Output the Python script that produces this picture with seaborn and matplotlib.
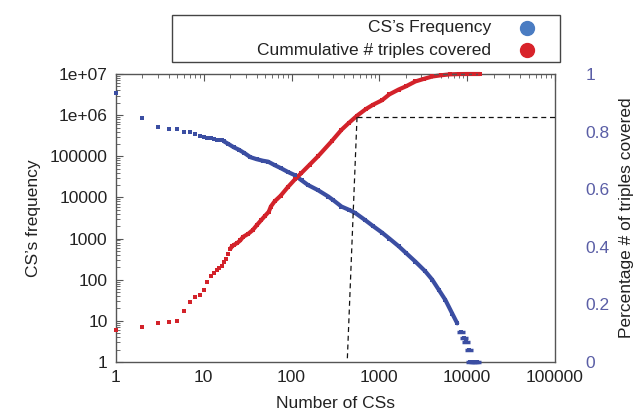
import matplotlib
matplotlib.use("Agg")
import matplotlib.pyplot as plt
from matplotlib.lines import Line2D
from matplotlib.patches import Rectangle
from matplotlib.ticker import FixedLocator, LogLocator, NullFormatter
import seaborn as sns
import pandas as pd
import numpy as np

# ---- data ----
freq_x = [1, 2, 3, 4, 5, 6, 7, 8, 9, 10, 11, 12, 13, 14, 15, 16, 17, 19, 22, 25,
          29, 34, 40, 47, 54, 65, 76, 90, 108, 130, 154, 200, 262, 300, 370, 450,
          530, 690, 850, 1070, 1300, 1660, 2000, 2570, 3330, 4000, 4770, 5650,
          6760, 7700, 8450, 9200, 9600, 10500, 10800, 11500, 12300, 13000]
freq_y = [3.5e6, 8.7e5, 5.2e5, 4.6e5, 4.5e5, 4.0e5, 3.8e5, 3.5e5, 3.2e5, 3.0e5,
          2.85e5, 2.75e5, 2.65e5, 2.55e5, 2.5e5, 2.45e5, 2.3e5, 2.0e5, 1.65e5, 1.45e5,
          1.2e5, 9.5e4, 8.5e4, 7.8e4, 7.4e4, 6.0e4, 5.1e4, 4.2e4, 3.5e4, 2.6e4,
          2.0e4, 1.5e4, 1.05e4, 8.5e3, 6.0e3, 5.0e3, 4.2e3, 2.8e3, 2.0e3, 1.4e3,
          1.0e3, 650, 450, 275, 160, 100, 56, 32, 15, 8.7, 5.5, 3.8, 3, 2, 1, 1, 1, 1]

cum_x = [1, 2, 3, 4, 5, 6, 7, 8, 9, 10, 11, 12, 13, 14, 15, 16, 17, 18, 19, 20,
         21, 22, 24, 26, 28, 32, 36, 40, 45, 50, 55, 58, 64, 75, 91, 110, 129, 160,
         200, 285, 370, 450, 560, 700, 850, 1070, 1300, 1660, 2000, 2570, 3200,
         4000, 5000, 6300, 8000, 10000, 12000, 14000]
cum_y = [6, 7, 8.7, 9.4, 10, 17, 28, 37, 42, 56, 90, 120, 145, 170, 190, 220, 270,
         320, 420, 560, 650, 700, 780, 900, 1100, 1300, 1600, 2100, 2800, 3600,
         4500, 6000, 8000, 1.1e4, 1.8e4, 2.8e4, 3.9e4, 6.2e4, 1.0e5, 2.3e5, 4.4e5,
         6.5e5, 9.8e5, 1.4e6, 1.8e6, 2.3e6, 3.2e6, 4.2e6, 5.0e6, 6.6e6, 7.6e6,
         8.7e6, 9.3e6, 9.8e6, 9.95e6, 1.0e7, 1.0e7, 1.0e7]

# 85 % marker (right axis fraction)
mark_frac = [0.85, 0.0]
mark_x = [556, 430]
x_max = 100000

series_names = ["CS\u2019s Frequency", "Cummulative # triples covered"]
x_ticks = [1, 10, 100, 1000, 10000, 100000]
x_ticklabels = ["1", "10", "100", "1000", "10000", "100000"]
y_ticks = [1, 10, 100, 1000, 10000, 100000, 1e6, 1e7]
y_ticklabels = ["1", "10", "100", "1000", "10000", "100000", "1e+06", "1e+07"]
r_ticks = [0, 0.2, 0.4, 0.6, 0.8, 1]
r_ticklabels = ["0", "0.2", "0.4", "0.6", "0.8", "1"]

# ---- styling ----
sns.set_theme(style="white")
plt.rcParams["font.family"] = ["Liberation Sans", "DejaVu Sans"]
plt.rcParams["font.size"] = 12.5

BLUE = "#3b4ea2"
RED = "#d3222a"
LEG_BLUE = "#4a7cc2"
LEG_RED = "#d8232a"
GRAY = "#555555"
TXT = "#222222"
RTXT = "#5a5ea6"

df_f = pd.DataFrame({"x": freq_x, "y": freq_y})
df_c = pd.DataFrame({"x": cum_x, "y": cum_y})

fig = plt.figure(figsize=(6.38, 4.16), dpi=100)
ax = fig.add_axes([116 / 638, 1 - 362 / 416, (555 - 116) / 638, (362 - 74) / 416])
ax.set_xscale("log")
ax.set_yscale("log")

# dense parts as thick lines
sns.lineplot(data=df_f[(df_f.x >= 17) & (df_f.x <= 7700)], x="x", y="y", ax=ax,
             color=BLUE, linewidth=3.0, sort=False, estimator=None)
sns.lineplot(data=df_c[df_c.x >= 20], x="x", y="y", ax=ax,
             color=RED, linewidth=3.0, sort=False, estimator=None, clip_on=False)
# points
sns.scatterplot(data=df_f, x="x", y="y", ax=ax, color=BLUE, marker="s", s=7,
                linewidth=0, clip_on=False, zorder=3)
sns.scatterplot(data=df_c, x="x", y="y", ax=ax, color=RED, marker="s", s=7,
                linewidth=0, clip_on=False, zorder=3)
# tail of blue as short bars
tail = df_f[df_f.x >= 8450]
sns.scatterplot(data=tail, x="x", y="y", ax=ax, color=BLUE, marker="_", s=40,
                linewidth=2.5, clip_on=False, zorder=3)

ax.set_xlim(1, x_max)
ax.set_ylim(1, 1e7)
ax.xaxis.set_major_locator(FixedLocator(x_ticks))
ax.set_xticklabels(x_ticklabels)
ax.yaxis.set_major_locator(FixedLocator(y_ticks))
ax.set_yticklabels(y_ticklabels)
ax.xaxis.set_minor_locator(LogLocator(base=10, subs=np.arange(2, 10)))
ax.yaxis.set_minor_locator(LogLocator(base=10, subs=np.arange(2, 10)))
ax.xaxis.set_minor_formatter(NullFormatter())
ax.yaxis.set_minor_formatter(NullFormatter())
ax.tick_params(which="both", direction="in", top=True, right=True,
               color=GRAY, labelcolor=TXT, labelsize=12.5)
ax.tick_params(which="major", length=5, width=0.8, pad=6)
ax.tick_params(which="minor", length=3, width=0.6)
ax.set_xlabel("Number of CSs", fontsize=12.5, color=TXT, labelpad=8)
ax.set_ylabel("CS\u2019s frequency", fontsize=12.5, color=TXT, labelpad=6)
for sp in ax.spines.values():
    sp.set_color(GRAY)
    sp.set_linewidth(1.0)

# right axis
ax2 = ax.twinx()
ax2.set_ylim(0, 1)
ax2.set_yticks(r_ticks)
ax2.set_yticklabels(r_ticklabels)
ax2.tick_params(axis="y", length=0, pad=22, labelcolor=RTXT, labelsize=12.5)
ax2.set_ylabel("Percentage # of triples covered", fontsize=12.5, color=TXT,
               rotation=90, va="center", ha="center", rotation_mode="anchor")
ax2.yaxis.set_label_coords((626 - 116) / (555 - 116), 0.5)
for sp in ax2.spines.values():
    sp.set_visible(False)

# dashed 85% guide
ax2.plot([mark_x[0], x_max], [mark_frac[0], mark_frac[0]], ls=(0, (4, 3)),
         color="#111111", lw=0.9, zorder=4)
ax2.plot(mark_x, mark_frac, ls=(0, (4, 3)), color="#111111", lw=0.9, zorder=4)

# legend box (gnuplot style: text right-aligned, marker on the right)
H = 416.0
W = 638.0
fig.add_artist(Rectangle((172 / W, 1 - 62 / H), (560 - 172) / W, (62 - 15) / H,
                         transform=fig.transFigure, fill=False,
                         edgecolor="#444444", linewidth=1.0))
leg_cols = [LEG_BLUE, LEG_RED]
for i, (name, col) in enumerate(zip(series_names, leg_cols)):
    yy = 1 - (27.5 + 22.5 * i) / H
    fig.text(491 / W, yy, name, ha="right", va="center", fontsize=12.5, color=TXT)
    fig.add_artist(Line2D([527 / W], [yy], transform=fig.transFigure, marker="o",
                          markersize=10, color=col, linestyle="none"))

fig.savefig("out.png", dpi=100)
